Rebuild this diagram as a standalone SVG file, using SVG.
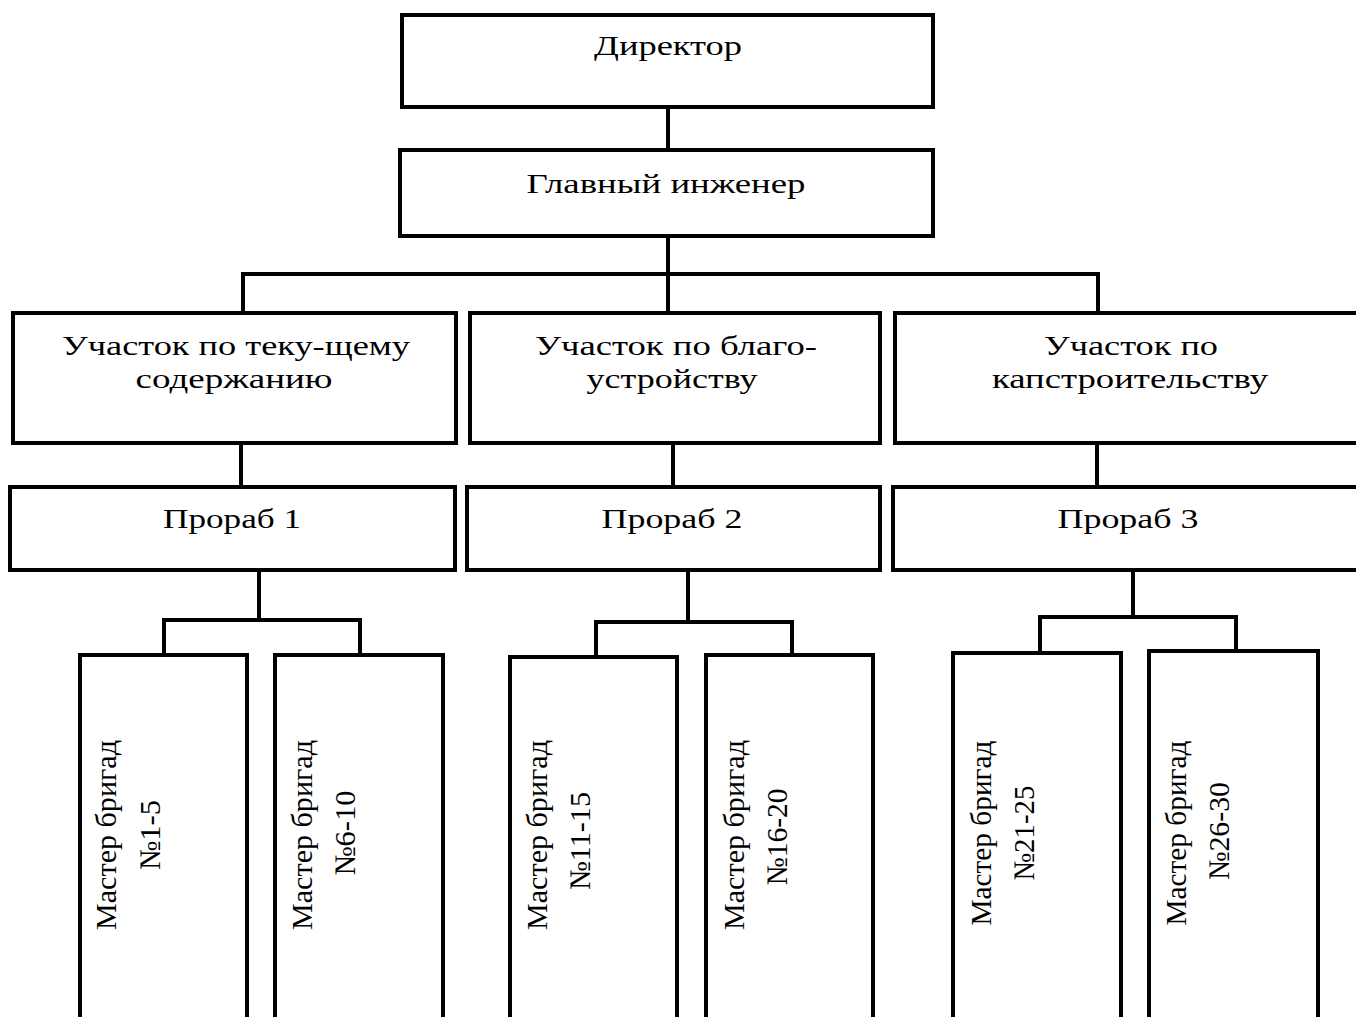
<svg xmlns="http://www.w3.org/2000/svg" width="1356" height="1017" viewBox="0 0 1356 1017">
<style>
.box{fill:#fff;stroke:#000;stroke-width:4}
.ln{fill:none;stroke:#000;stroke-width:4}
text{font-family:"Liberation Serif","Times New Roman",serif;font-size:28px;fill:#000;text-anchor:middle}
.v{font-size:30px}
</style>
<rect width="1356" height="1017" fill="#fff"/>
<g id="connectors">
<path class="ln" d="M668 107V150"/>
<path class="ln" d="M668 236V313M243 313V274H1098V313"/>
<path class="ln" d="M241 443V487M673 443V487M1097 443V487"/>
<path class="ln" d="M259 570V620M164 655V620H360V655"/>
<path class="ln" d="M688 570V622M596 657V622H792V655"/>
<path class="ln" d="M1133 570V617M1040 653V617H1236V651"/>
</g>
<g id="director"><rect class="box" x="402" y="15" width="531" height="92"/><text x="668" y="55" textLength="148" lengthAdjust="spacingAndGlyphs">Директор</text></g>
<g id="chief"><rect class="box" x="400" y="150" width="533" height="86"/><text x="666" y="193" textLength="279" lengthAdjust="spacingAndGlyphs">Главный инженер</text></g>
<g id="sec1"><rect class="box" x="13" y="313" width="443" height="130"/><text x="236" y="355" textLength="348" lengthAdjust="spacingAndGlyphs">Участок по теку-щему</text><text x="234" y="388" textLength="197" lengthAdjust="spacingAndGlyphs">содержанию</text></g>
<g id="sec2"><rect class="box" x="470" y="313" width="410" height="130"/><text x="676" y="355" textLength="282" lengthAdjust="spacingAndGlyphs">Участок по благо-</text><text x="672" y="388" textLength="171" lengthAdjust="spacingAndGlyphs">устройству</text></g>
<g id="sec3"><rect class="box" x="895" y="313" width="470" height="130"/><text x="1131" y="355" textLength="174" lengthAdjust="spacingAndGlyphs">Участок по</text><text x="1130" y="388" textLength="276" lengthAdjust="spacingAndGlyphs">капстроительству</text></g>
<g id="prorab1"><rect class="box" x="10" y="487" width="445" height="83"/><text x="232" y="528" textLength="138" lengthAdjust="spacingAndGlyphs">Прораб 1</text></g>
<g id="prorab2"><rect class="box" x="467" y="487" width="413" height="83"/><text x="672" y="528" textLength="141" lengthAdjust="spacingAndGlyphs">Прораб 2</text></g>
<g id="prorab3"><rect class="box" x="893" y="487" width="470" height="83"/><text x="1128" y="528" textLength="141" lengthAdjust="spacingAndGlyphs">Прораб 3</text></g>
<g id="m1"><rect class="box" x="80" y="655" width="167" height="380"/><text class="v" transform="translate(116 835) rotate(-90)" textLength="190" lengthAdjust="spacingAndGlyphs">Мастер бригад</text><text class="v" transform="translate(160 835) rotate(-90)" textLength="70" lengthAdjust="spacingAndGlyphs">№1-5</text></g>
<g id="m2"><rect class="box" x="275" y="655" width="168" height="380"/><text class="v" transform="translate(312 835) rotate(-90)" textLength="190" lengthAdjust="spacingAndGlyphs">Мастер бригад</text><text class="v" transform="translate(355 833) rotate(-90)" textLength="85" lengthAdjust="spacingAndGlyphs">№6-10</text></g>
<g id="m3"><rect class="box" x="510" y="657" width="167" height="380"/><text class="v" transform="translate(547 835) rotate(-90)" textLength="190" lengthAdjust="spacingAndGlyphs">Мастер бригад</text><text class="v" transform="translate(590 841) rotate(-90)" textLength="98" lengthAdjust="spacingAndGlyphs">№11-15</text></g>
<g id="m4"><rect class="box" x="706" y="655" width="167" height="380"/><text class="v" transform="translate(744 835) rotate(-90)" textLength="190" lengthAdjust="spacingAndGlyphs">Мастер бригад</text><text class="v" transform="translate(787 837) rotate(-90)" textLength="97" lengthAdjust="spacingAndGlyphs">№16-20</text></g>
<g id="m5"><rect class="box" x="953" y="653" width="168" height="380"/><text class="v" transform="translate(991 833) rotate(-90)" textLength="185" lengthAdjust="spacingAndGlyphs">Мастер бригад</text><text class="v" transform="translate(1034 833) rotate(-90)" textLength="95" lengthAdjust="spacingAndGlyphs">№21-25</text></g>
<g id="m6"><rect class="box" x="1149" y="651" width="169" height="380"/><text class="v" transform="translate(1186 833) rotate(-90)" textLength="185" lengthAdjust="spacingAndGlyphs">Мастер бригад</text><text class="v" transform="translate(1229 831) rotate(-90)" textLength="98" lengthAdjust="spacingAndGlyphs">№26-30</text></g>
</svg>
